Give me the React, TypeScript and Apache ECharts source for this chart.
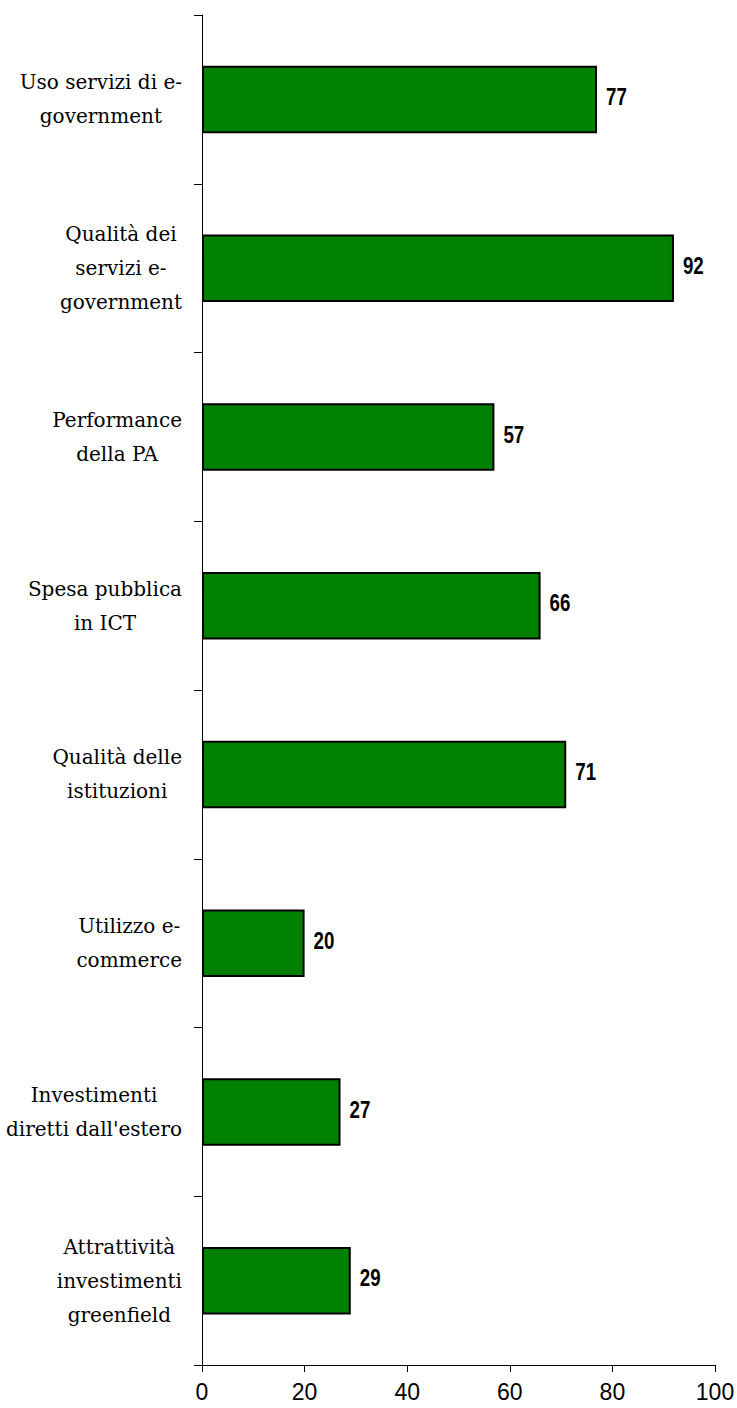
import React, { useEffect, useRef } from 'react';
import * as echarts from 'echarts';

const categories: string[] = [
  'Uso servizi di e-\ngovernment',
  'Qualità dei\nservizi e-\ngovernment',
  'Performance\ndella PA',
  'Spesa pubblica\nin ICT',
  'Qualità delle\nistituzioni',
  'Utilizzo e-\ncommerce',
  "Investimenti\ndiretti dall'estero",
  'Attrattività\ninvestimenti\ngreenfield',
];

const values: number[] = [77, 92, 57, 66, 71, 20, 27, 29];

const xMin = 0;
const xMax = 100;
const xStep = 20;

export default function App() {
  const ref = useRef<HTMLDivElement>(null);

  useEffect(() => {
    if (!ref.current) return;
    const chart = echarts.init(ref.current, null, { renderer: 'svg' });
    const axisColor = '#000';
    const serif = "'DejaVu Serif', 'Liberation Serif', serif";
    const sans = "'Liberation Sans', Arial, sans-serif";
    chart.setOption({
      animation: false,
      backgroundColor: '#fff',
      grid: {
        left: 202,
        right: 22,
        top: 15,
        bottom: 43,
        containLabel: false,
        outerBoundsMode: 'none',
      },
      xAxis: {
        type: 'value',
        min: xMin,
        max: xMax,
        interval: xStep,
        axisLine: { show: true, lineStyle: { color: axisColor, width: 1 } },
        axisTick: { show: true, length: 7, lineStyle: { color: axisColor, width: 1 } },
        splitLine: { show: false },
        axisLabel: {
          fontFamily: sans,
          fontSize: 23,
          color: '#000',
          margin: 15,
        },
      },
      yAxis: {
        type: 'category',
        inverse: true,
        data: categories,
        axisLine: { show: true, lineStyle: { color: axisColor, width: 1 } },
        axisTick: { show: true, length: 8, lineStyle: { color: axisColor, width: 1 } },
        splitLine: { show: false },
        axisLabel: {
          margin: 20,
          align: 'right',
          color: '#000',
          fontFamily: serif,
          fontSize: 20,
          lineHeight: 34,
          formatter: (v: string) =>
            v
              .split('\n')
              .map((l) => `{c|${l}}`)
              .join('\n'),
          rich: {
            c: {
              align: 'center',
              fontFamily: serif,
              fontSize: 20,
              lineHeight: 34,
              color: '#000',
            },
          },
        },
      },
      series: [
        {
          type: 'bar',
          data: values,
          barWidth: '40%',
          itemStyle: { color: '#008000', borderColor: '#000', borderWidth: 2 },
        },
        {
          type: 'custom',
          data: values.map((v, i) => [v, i]),
          encode: { x: 0, y: 1 },
          z: 5,
          renderItem: (_params: any, api: any) => {
            const v = api.value(0);
            const idx = api.value(1);
            const p = api.coord([v, idx]);
            return {
              type: 'text',
              x: p[0] + 9,
              y: p[1] - 2,
              scaleX: 0.78,
              style: {
                text: String(v),
                fontSize: 24,
                fontWeight: 'bold',
                fontFamily: sans,
                fill: '#000',
                align: 'left',
                verticalAlign: 'middle',
              },
            };
          },
        },
      ],
    });
    return () => chart.dispose();
  }, []);

  return (
    <div
      ref={ref}
      style={{ position: 'absolute', left: 0, top: 0, width: 737, height: 1408 }}
    />
  );
}
